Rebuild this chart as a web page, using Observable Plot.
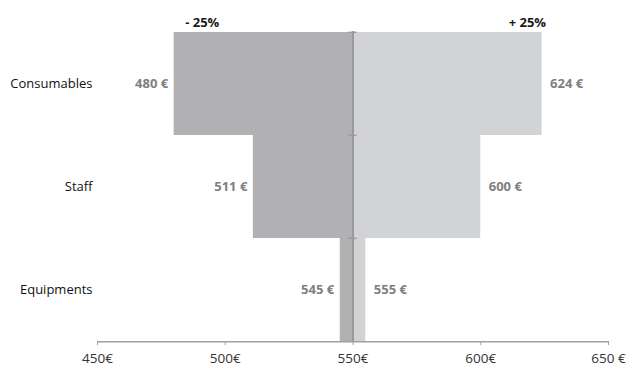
<!DOCTYPE html>
<html>
<head>
<meta charset="utf-8">
<script src="https://cdn.jsdelivr.net/npm/d3@7"></script>
<script src="https://cdn.jsdelivr.net/npm/@observablehq/plot@0.6"></script>
<style>
  html, body { margin: 0; padding: 0; background: #fff; }
</style>
</head>
<body>
<div id="chart"></div>
<script>
const categories = ["Consumables", "Staff", "Equipments"];
const lowValues = [480, 511, 545];
const highValues = [624, 600, 555];
const baseValue = 550;
const xTicks = [450, 500, 550, 600, 650];
const xTickLabels = ["450€", "500€", "550€", "600€", "650 €"];
const headerLabels = ["- 25%", "+ 25%"];

const W = 628, H = 369;
const mTop = 31, mBottom = 28, mLeft = 97, mRight = 20;
const bw = (H - mTop - mBottom) / categories.length;

const rows = categories.map((c, i) => ({cat: c, low: lowValues[i], high: highValues[i]}));
const fmt = v => `${v} €`;

const chart = Plot.plot({
  width: W,
  height: H,
  marginTop: mTop,
  marginBottom: mBottom,
  marginLeft: mLeft,
  marginRight: mRight,
  style: {fontFamily: "'Open Sans', sans-serif", fontSize: "13px", background: "#fff", color: "#000", overflow: "visible"},
  x: {domain: [xTicks[0], xTicks[xTicks.length - 1]], label: null},
  y: {domain: categories, padding: 0, label: null},
  marks: [
    Plot.barX(rows, {y: "cat", x1: "low", x2: baseValue, fill: "#b1b1b3"}),
    Plot.barX(rows, {y: "cat", x1: baseValue, x2: "high", fill: "#d2d3d5"}),
    Plot.ruleX([baseValue], {stroke: "#9a9a9c", strokeWidth: 2}),
    Plot.ruleY(categories, {y: d => d, x1: baseValue, x2: baseValue, insetLeft: -4, insetRight: -4, dy: -bw / 2, stroke: "#9a9a9c", strokeWidth: 1.5}),
    Plot.ruleY([categories[categories.length - 1]], {dy: bw / 2, stroke: "#a0a0a0", strokeWidth: 1.5}),
    Plot.axisX({ticks: xTicks, tickFormat: (d) => xTickLabels[xTicks.indexOf(d)], tickSize: 4, tickPadding: 8, stroke: "#a0a0a0", fill: "#333", fontSize: 13.5, label: null}),
    Plot.axisY({tickSize: 0, tickPadding: 5, fill: "#111", fontSize: 13, label: null}),
    Plot.text(rows, {y: "cat", x: "low", text: d => fmt(d.low), textAnchor: "end", dx: -6, fill: "#7f7f7f", fontWeight: "bold", fontSize: 13}),
    Plot.text(rows, {y: "cat", x: "high", text: d => fmt(d.high), textAnchor: "start", dx: 8, fill: "#7f7f7f", fontWeight: "bold", fontSize: 13}),
    Plot.text([headerLabels[0]], {x: lowValues[0], text: d => d, frameAnchor: "top", textAnchor: "start", dx: 11, dy: -14, fill: "#1a1a1a", fontWeight: "bold", fontSize: 13}),
    Plot.text([headerLabels[1]], {x: highValues[0], text: d => d, frameAnchor: "top", textAnchor: "end", dx: 4, dy: -14, fill: "#1a1a1a", fontWeight: "bold", fontSize: 13})
  ]
});
document.getElementById("chart").appendChild(chart);
</script>
</body>
</html>
